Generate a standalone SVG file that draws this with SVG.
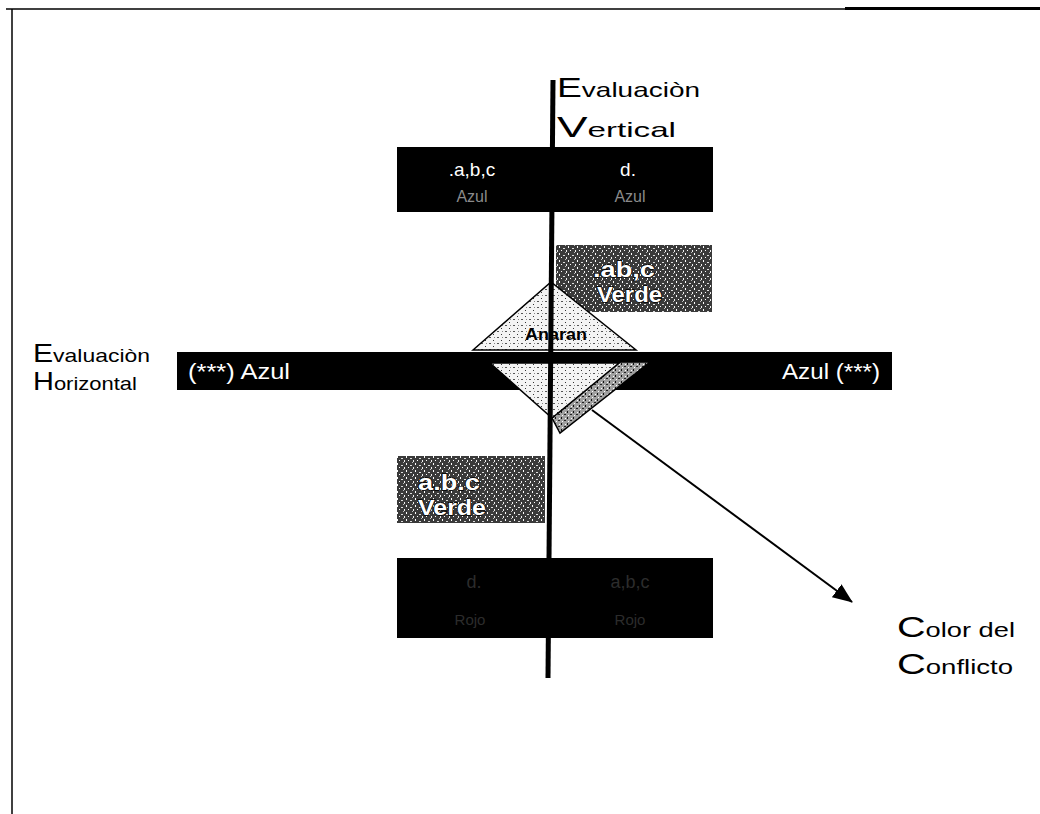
<svg xmlns="http://www.w3.org/2000/svg" width="1040" height="814" viewBox="0 0 1040 814">
<style>
.lbl{font-family:"Liberation Sans",Arial,sans-serif;fill:#000}
.wt{font-family:"Liberation Sans",Arial,sans-serif;fill:#fff}
.gr{font-family:"Liberation Sans",Arial,sans-serif;fill:#fff;font-weight:bold;stroke:#000;stroke-width:1.4;paint-order:stroke}
.dim{font-family:"Liberation Sans",Arial,sans-serif;fill:#8a8a8a}
.faint{font-family:"Liberation Sans",Arial,sans-serif;fill:#2c2c2c}
</style>
<defs>
<pattern id="speck" width="9" height="7" patternUnits="userSpaceOnUse">
<rect width="9" height="7" fill="#3a3a3a"/>
<rect x="1" y="1" width="1" height="2" fill="#fff"/>
<rect x="5" y="3" width="2" height="1" fill="#ddd"/>
<rect x="3" y="5" width="1" height="1" fill="#fff"/>
<rect x="7" y="0" width="1" height="1" fill="#bbb"/>
<rect x="8" y="5" width="1" height="2" fill="#eee"/>
</pattern>
<pattern id="light" width="8" height="6" patternUnits="userSpaceOnUse">
<rect width="8" height="6" fill="#f4f4f4"/>
<rect x="1" y="1" width="2" height="1" fill="#555"/>
<rect x="5" y="4" width="1" height="1" fill="#333"/>
<rect x="6" y="1" width="1" height="1" fill="#888"/>
</pattern>
<pattern id="mid" width="6" height="6" patternUnits="userSpaceOnUse">
<rect width="6" height="6" fill="#a0a0a0"/>
<rect x="0" y="0" width="2" height="1" fill="#222"/>
<rect x="3" y="3" width="1" height="2" fill="#111"/>
<rect x="4" y="1" width="1" height="1" fill="#fff"/>
<rect x="1" y="4" width="1" height="1" fill="#fff"/>
</pattern>
<marker id="arr" markerWidth="20" markerHeight="16" refX="19" refY="8" orient="auto" markerUnits="userSpaceOnUse" viewBox="0 0 20 16">
<path d="M0,0 L20,8 L0,16 z" fill="#000"/>
</marker>
</defs>
<rect width="1040" height="814" fill="#fff"/>

<g id="frame">
<line x1="6" y1="9" x2="1040" y2="9" stroke="#000" stroke-width="1.5"/>
<line x1="845" y1="8.5" x2="1040" y2="8.5" stroke="#000" stroke-width="3"/>
<line x1="12" y1="9" x2="12" y2="814" stroke="#000" stroke-width="1.5"/>
</g>

<g id="top-box">
<rect x="397" y="147" width="316" height="65" fill="#000"/>
<text class="wt" x="472" y="176" font-size="19" text-anchor="middle">.a,b,c</text>
<text class="dim" x="472" y="202" font-size="16" text-anchor="middle">Azul</text>
<text class="wt" x="628" y="176" font-size="19" text-anchor="middle">d.</text>
<text class="dim" x="630" y="202" font-size="16" text-anchor="middle">Azul</text>
</g>

<g id="verde-upper">
<rect x="556" y="245" width="156" height="67" fill="url(#speck)"/>
<text class="gr" x="593" y="277" font-size="22" textLength="62" lengthAdjust="spacingAndGlyphs">.ab,c</text>
<text class="gr" x="597" y="302" font-size="22" textLength="65" lengthAdjust="spacingAndGlyphs">Verde</text>
</g>

<g id="diamond-upper">
<polygon points="473,350 551,282 636,350" fill="url(#light)" stroke="#000" stroke-width="1.5"/>
<text x="525" y="340" font-size="17" font-weight="bold" font-family="Liberation Sans, Arial, sans-serif" fill="#000" textLength="62" lengthAdjust="spacingAndGlyphs">Anaran</text>
</g>

<g id="bar">
<rect x="177" y="352" width="715" height="38" fill="#000"/>
<text class="wt" x="188" y="379" font-size="22" textLength="102" lengthAdjust="spacingAndGlyphs">(***) Azul</text>
<text class="wt" x="782" y="379" font-size="22" textLength="98" lengthAdjust="spacingAndGlyphs">Azul (***)</text>
</g>

<g id="diamond-lower">
<polygon points="552,418 620,362 650,362 560,433" fill="url(#mid)" stroke="#000" stroke-width="1.5"/>
<polygon points="490,363 619,363 552,418" fill="url(#light)" stroke="#000" stroke-width="1.5"/>
</g>

<g id="verde-lower">
<rect x="397" y="456" width="148" height="67" fill="url(#speck)"/>
<text class="gr" x="418" y="490" font-size="22" textLength="62" lengthAdjust="spacingAndGlyphs">a.b.c</text>
<text class="gr" x="418" y="515" font-size="22" textLength="68" lengthAdjust="spacingAndGlyphs">Verde</text>
</g>

<g id="bottom-box">
<rect x="397" y="558" width="316" height="80" fill="#000"/>
<text class="faint" x="474" y="588" font-size="18" text-anchor="middle">d.</text>
<text class="faint" x="470" y="625" font-size="15" text-anchor="middle">Rojo</text>
<text class="faint" x="630" y="588" font-size="18" text-anchor="middle">a,b,c</text>
<text class="faint" x="630" y="625" font-size="15" text-anchor="middle">Rojo</text>
</g>

<g id="connectors">
<line x1="553" y1="80" x2="548" y2="678" stroke="#000" stroke-width="5"/>
<line x1="592" y1="410" x2="852" y2="602" stroke="#000" stroke-width="2" marker-end="url(#arr)"/>
</g>

<g id="label-vertical">
<text class="lbl" x="557" y="97" font-size="21" textLength="143" lengthAdjust="spacingAndGlyphs"><tspan font-size="28">E</tspan>valuaciòn</text>
<text class="lbl" x="557" y="137" font-size="21" textLength="119" lengthAdjust="spacingAndGlyphs"><tspan font-size="29">V</tspan>ertical</text>
</g>

<g id="label-horizontal">
<text class="lbl" x="33" y="362" font-size="19" textLength="117" lengthAdjust="spacingAndGlyphs"><tspan font-size="25">E</tspan>valuaciòn</text>
<text class="lbl" x="33" y="390" font-size="19" textLength="104" lengthAdjust="spacingAndGlyphs"><tspan font-size="25">H</tspan>orizontal</text>
</g>

<g id="label-conflicto">
<text class="lbl" x="897" y="637" font-size="20" textLength="118" lengthAdjust="spacingAndGlyphs"><tspan font-size="29">C</tspan>olor del</text>
<text class="lbl" x="897" y="674" font-size="20" textLength="116" lengthAdjust="spacingAndGlyphs"><tspan font-size="29">C</tspan>onflicto</text>
</g>
</svg>
